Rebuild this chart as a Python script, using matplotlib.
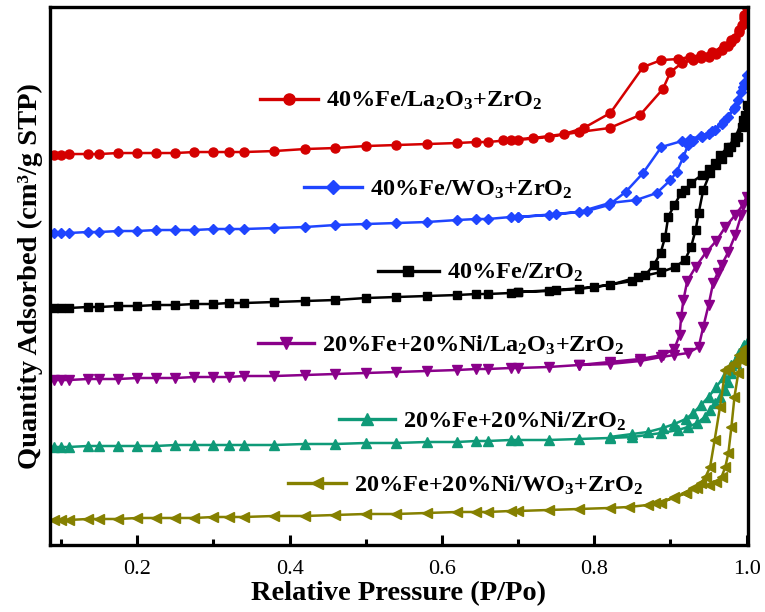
import matplotlib.pyplot as plt
from matplotlib.ticker import MultipleLocator

plt.rcParams['font.family'] = ['Liberation Serif', 'DejaVu Serif']
plt.rcParams['mathtext.fontset'] = 'custom'
plt.rcParams['mathtext.rm'] = 'Liberation Serif:bold'
plt.rcParams['mathtext.it'] = 'Liberation Serif:bold'
plt.rcParams['mathtext.bf'] = 'Liberation Serif:bold'

# relative pressure points shared by the low-pressure part of every isotherm
p_low = [0.09, 0.10, 0.11, 0.135, 0.15, 0.175, 0.20, 0.225, 0.25, 0.275, 0.30, 0.32, 0.34,
         0.38, 0.42, 0.46, 0.50, 0.54, 0.58, 0.62, 0.645, 0.66, 0.69, 0.70, 0.74, 0.78]

# 40%Fe/La2O3+ZrO2
red_low = [390, 390, 391, 391, 391, 392, 392, 392, 392, 393, 393, 393, 393,
           394, 396, 397, 399, 400, 401, 402, 403, 403, 405, 405, 408, 413]
red_ads_p = [0.82, 0.86, 0.89, 0.90, 0.915, 0.93, 0.94, 0.95, 0.96, 0.967, 0.975, 0.98, 0.985, 0.99, 0.994, 0.997, 1.0]
red_ads_q = [417, 430, 456, 473, 482, 485, 487, 488, 491, 495, 499, 503, 507, 513, 520, 527, 537]
red_des_p = [0.997, 0.99, 0.98, 0.97, 0.955, 0.94, 0.925, 0.91, 0.888, 0.864, 0.821, 0.786, 0.76, 0.72, 0.68]
red_des_q = [530, 515, 505, 499, 493, 490, 488, 486, 485, 478, 432, 417, 411, 407, 405]

# 40%Fe/WO3+ZrO2
blue_low = [312, 312, 312, 313, 313, 314, 314, 315, 315, 315, 316, 316, 316,
            317, 318, 320, 321, 322, 323, 325, 326, 326, 328, 328, 330, 333]
blue_ads_p = [0.82, 0.855, 0.882, 0.90, 0.908, 0.917, 0.923, 0.93, 0.941, 0.95, 0.959, 0.967, 0.976, 0.983, 0.989, 0.993, 0.997, 1.0]
blue_ads_q = [342, 345, 352, 365, 373, 388, 400, 404, 408, 411, 415, 421, 428, 436, 445, 453, 462, 470]
blue_des_p = [0.995, 0.985, 0.97, 0.955, 0.94, 0.925, 0.915, 0.888, 0.864, 0.841, 0.819, 0.79, 0.75, 0.70]
blue_des_q = [458, 438, 424, 414, 409, 406, 404, 398, 372, 353, 340, 334, 331, 328]

# 40%Fe/ZrO2
black_low = [237, 237, 237, 238, 238, 239, 239, 240, 240, 241, 241, 242, 242,
             243, 244, 245, 247, 248, 249, 250, 251, 251, 252, 253, 254, 256]
black_ads_p = [0.82, 0.858, 0.888, 0.906, 0.919, 0.927, 0.933, 0.937, 0.943, 0.952, 0.96, 0.967, 0.975, 0.98, 0.985, 0.989, 0.994, 0.998, 1.0]
black_ads_q = [260, 268, 273, 278, 285, 298, 315, 332, 355, 372, 380, 386, 393, 398, 403, 408, 418, 430, 440]
black_des_p = [0.995, 0.985, 0.976, 0.965, 0.959, 0.95, 0.941, 0.927, 0.919, 0.914, 0.905, 0.897, 0.893, 0.887, 0.878, 0.867, 0.85, 0.80, 0.75, 0.70]
black_des_q = [425, 408, 398, 390, 382, 376, 370, 362, 355, 352, 340, 328, 308, 292, 280, 270, 264, 258, 255, 253]

# 20%Fe+20%Ni/La2O3+ZrO2
purple_low = [165, 165, 165, 166, 166, 166, 167, 167, 167, 168, 168, 168, 169,
              169, 170, 171, 172, 173, 174, 175, 176, 176, 177, 177, 178, 180]
purple_ads_p = [0.82, 0.86, 0.888, 0.905, 0.923, 0.937, 0.943, 0.95, 0.956, 0.962, 0.967, 0.976, 0.985, 0.993, 1.0]
purple_ads_q = [181, 184, 188, 190, 192, 198, 218, 240, 262, 272, 280, 293, 310, 330, 348]
purple_des_p = [0.995, 0.985, 0.972, 0.96, 0.946, 0.933, 0.922, 0.917, 0.914, 0.912, 0.905, 0.89, 0.86, 0.82, 0.78]
purple_des_q = [340, 330, 318, 304, 292, 278, 264, 245, 228, 210, 196, 190, 186, 183, 180]

# 20%Fe+20%Ni/ZrO2
green_low = [98, 98, 98, 99, 99, 99, 99, 99, 100, 100, 100, 100, 100,
             100, 101, 101, 102, 102, 103, 103, 104, 104, 105, 105, 105, 106]
green_ads_p = [0.82, 0.85, 0.888, 0.91, 0.923, 0.935, 0.945, 0.952, 0.958, 0.965, 0.971, 0.976, 0.98, 0.986, 0.991, 0.995, 1.0]
green_ads_q = [107, 108, 112, 115, 118, 122, 128, 135, 142, 148, 155, 163, 172, 182, 190, 198, 202]
green_des_p = [0.997, 0.99, 0.98, 0.97, 0.96, 0.95, 0.94, 0.93, 0.92, 0.905, 0.89, 0.87, 0.85, 0.82]
green_des_q = [200, 192, 180, 168, 158, 148, 140, 132, 126, 121, 117, 113, 111, 108]

# 20%Fe+20%Ni/WO3+ZrO2
olive_low = [25, 25, 25, 26, 26, 26, 27, 27, 27, 27, 28, 28, 28,
             29, 29, 30, 31, 31, 32, 33, 33, 33, 34, 34, 35, 36]
olive_ads_p = [0.82, 0.845, 0.87, 0.888, 0.905, 0.92, 0.935, 0.95, 0.96, 0.967, 0.972, 0.976, 0.98, 0.984, 0.989, 0.993, 0.997, 1.0]
olive_ads_q = [37, 38, 40, 42, 48, 52, 57, 60, 63, 68, 78, 92, 118, 148, 172, 185, 193, 198]
olive_des_p = [0.997, 0.99, 0.983, 0.977, 0.972, 0.965, 0.958, 0.952, 0.946, 0.94, 0.93, 0.92, 0.905, 0.88]
olive_des_q = [196, 190, 182, 178, 175, 138, 105, 78, 68, 62, 57, 52, 47, 42]

labels = ['40%Fe/La$_2$O$_3$+ZrO$_2$', '40%Fe/WO$_3$+ZrO$_2$', '40%Fe/ZrO$_2$',
          '20%Fe+20%Ni/La$_2$O$_3$+ZrO$_2$', '20%Fe+20%Ni/ZrO$_2$', '20%Fe+20%Ni/WO$_3$+ZrO$_2$']
colors = ['#d40000', '#1f45ff', '#000000', '#8a008a', '#0f9a78', '#858000']
markers = ['o', 'D', 's', 'v', '^', '<']
msizes = [6.5, 5.5, 5.5, 6.5, 6.5, 6.5]

series = [
    (red_low, red_ads_p, red_ads_q, red_des_p, red_des_q),
    (blue_low, blue_ads_p, blue_ads_q, blue_des_p, blue_des_q),
    (black_low, black_ads_p, black_ads_q, black_des_p, black_des_q),
    (purple_low, purple_ads_p, purple_ads_q, purple_des_p, purple_des_q),
    (green_low, green_ads_p, green_ads_q, green_des_p, green_des_q),
    (olive_low, olive_ads_p, olive_ads_q, olive_des_p, olive_des_q),
]

# inline legend: line start, line end, height (in axes fraction)
leg_pos = [(0.301, 0.384, 0.829), (0.364, 0.447, 0.665), (0.470, 0.557, 0.509),
           (0.298, 0.378, 0.375), (0.414, 0.494, 0.234), (0.341, 0.424, 0.115)]

fig = plt.figure(figsize=(7.65, 6.12), dpi=100)
ax = fig.add_axes([0.065, 0.1095, 0.913, 0.879])

for (low, ap, aq, dp, dq), c, m, ms in zip(series, colors, markers, msizes):
    x = p_low + ap + dp
    y = low + aq + dq
    ax.plot(x, y, color=c, marker=m, ms=ms, lw=1.8, mec=c, mfc=c)

for lab, c, m, ms, (x0, x1, yy) in zip(labels, colors, markers, msizes, leg_pos):
    ax.plot([x0, x1], [yy, yy], color=c, lw=2.4, transform=ax.transAxes, clip_on=False)
    ax.plot([(x0 + x1) / 2], [yy], color=c, marker=m, ms=ms + 1.5, transform=ax.transAxes)
    ax.text(x1 + 0.012, yy - 0.004, lab, transform=ax.transAxes, fontsize=17.5,
            fontweight='bold', va='center', ha='left')

ax.set_xlim(0.085, 1.002)
ax.set_ylim(0, 538)
ax.xaxis.set_major_locator(MultipleLocator(0.2))
ax.xaxis.set_minor_locator(MultipleLocator(0.1))
ax.tick_params(axis='x', which='major', direction='in', length=7, width=2.2, labelsize=16, pad=11)
ax.tick_params(axis='x', which='minor', direction='in', length=4, width=2.2)
ax.set_yticks([])
for s in ax.spines.values():
    s.set_linewidth(2.4)

ax.set_xlabel('Relative Pressure (P/Po)', fontsize=20.5, fontweight='bold', labelpad=1)
ax.set_ylabel('Quantity Adsorbed (cm³/g STP)', fontsize=20.5, fontweight='bold', labelpad=5)

fig.savefig('out.png', dpi=100)
